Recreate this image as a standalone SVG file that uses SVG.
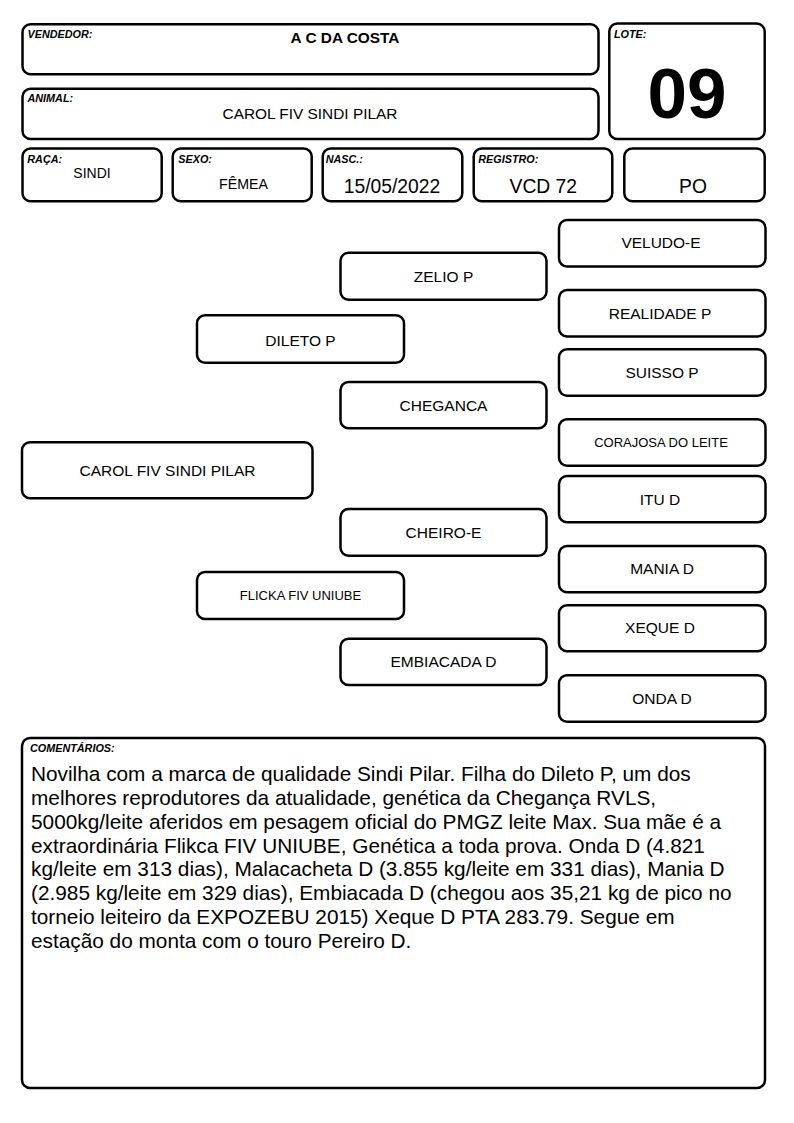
<svg xmlns="http://www.w3.org/2000/svg" width="794" height="1123" viewBox="0 0 794 1123">
<style>
  .box{fill:#ffffff;stroke:#000000;stroke-width:2.5}
  .lbl{font-family:"Liberation Sans",Arial,sans-serif;font-size:10.8px;font-weight:bold;font-style:italic;fill:#000}
  .val{font-family:"Liberation Sans",Arial,sans-serif;fill:#000;text-anchor:middle}
  .ped{font-family:"Liberation Sans",Arial,sans-serif;font-size:15.5px;fill:#000;text-anchor:middle}
  .peds{font-family:"Liberation Sans",Arial,sans-serif;font-size:13px;fill:#000;text-anchor:middle}
  .com{font-family:"Liberation Sans",Arial,sans-serif;font-size:20.8px;fill:#000}
</style>
<rect x="0" y="0" width="794" height="1123" fill="#ffffff"/>

<g id="vendedor">
  <rect class="box" x="22.5" y="24.3" width="576" height="50" rx="8"/>
  <text class="lbl" x="27.5" y="38.3">VENDEDOR:</text>
  <text class="val" x="345" y="42.5" font-size="15.4" font-weight="bold">A C DA COSTA</text>
</g>
<g id="animal">
  <rect class="box" x="22.5" y="88.7" width="576" height="50.3" rx="8"/>
  <text class="lbl" x="27.5" y="102.3">ANIMAL:</text>
  <text class="val" x="310" y="119.3" font-size="15.4">CAROL FIV SINDI PILAR</text>
</g>
<g id="lote">
  <rect class="box" x="609.3" y="23.5" width="155.4" height="115.5" rx="8"/>
  <text class="lbl" x="614" y="38.3">LOTE:</text>
  <text class="val" x="687" y="118" font-size="71" font-weight="bold">09</text>
</g>

<g id="raca">
  <rect class="box" x="22.5" y="148.5" width="139.2" height="52.8" rx="8"/>
  <text class="lbl" x="27.3" y="162.7">RAÇA:</text>
  <text class="val" x="92" y="177.7" font-size="14">SINDI</text>
</g>
<g id="sexo">
  <rect class="box" x="172.7" y="148.5" width="139" height="52.8" rx="8"/>
  <text class="lbl" x="178.3" y="162.7">SEXO:</text>
  <text class="val" x="243.5" y="189.3" font-size="14.2">FÊMEA</text>
</g>
<g id="nasc">
  <rect class="box" x="322.7" y="148.5" width="139.6" height="52.8" rx="8"/>
  <text class="lbl" x="325.7" y="162.7">NASC.:</text>
  <text class="val" x="392" y="193.3" font-size="19.3">15/05/2022</text>
</g>
<g id="registro">
  <rect class="box" x="473.7" y="148.5" width="138.6" height="52.8" rx="8"/>
  <text class="lbl" x="478.3" y="162.7">REGISTRO:</text>
  <text class="val" x="543.3" y="193.3" font-size="19.3">VCD 72</text>
</g>
<g id="po">
  <rect class="box" x="624.3" y="148.5" width="140.4" height="52.8" rx="8"/>
  <text class="val" x="693" y="193.3" font-size="19.3">PO</text>
</g>

<g id="connectors"></g>

<g id="carol">
  <rect class="box" x="22" y="442.3" width="290.5" height="56" rx="8"/>
  <text class="ped" x="167.5" y="475.7" font-size="15.4">CAROL FIV SINDI PILAR</text>
</g>
<g id="dileto">
  <rect class="box" x="197" y="315.3" width="207" height="47.4" rx="8"/>
  <text class="ped" x="300.5" y="345.5">DILETO P</text>
</g>
<g id="flicka">
  <rect class="box" x="197" y="572" width="207" height="47" rx="8"/>
  <text class="peds" x="300.5" y="600">FLICKA FIV UNIUBE</text>
</g>
<g id="zelio">
  <rect class="box" x="340.5" y="252.7" width="206" height="47" rx="8"/>
  <text class="ped" x="443.5" y="281.7">ZELIO P</text>
</g>
<g id="cheganca">
  <rect class="box" x="340.5" y="382" width="206" height="46.3" rx="8"/>
  <text class="ped" x="443.5" y="410.5">CHEGANCA</text>
</g>
<g id="cheiro">
  <rect class="box" x="340.5" y="509" width="206" height="46.7" rx="8"/>
  <text class="ped" x="443.5" y="537.7">CHEIRO-E</text>
</g>
<g id="embiacada">
  <rect class="box" x="340.5" y="638.7" width="206" height="46.3" rx="8"/>
  <text class="ped" x="443.5" y="666.5">EMBIACADA D</text>
</g>
<g id="veludo">
  <rect class="box" x="559" y="220" width="206.5" height="46.5" rx="8"/>
  <text class="ped" x="661" y="248.3">VELUDO-E</text>
</g>
<g id="realidade">
  <rect class="box" x="559" y="290" width="206.5" height="46.5" rx="8"/>
  <text class="ped" x="660" y="318.5">REALIDADE P</text>
</g>
<g id="suisso">
  <rect class="box" x="559" y="349.3" width="206.5" height="46.4" rx="8"/>
  <text class="ped" x="662" y="377.5">SUISSO P</text>
</g>
<g id="corajosa">
  <rect class="box" x="559" y="419.3" width="206.5" height="46.4" rx="8"/>
  <text class="peds" x="661" y="446.5">CORAJOSA DO LEITE</text>
</g>
<g id="itu">
  <rect class="box" x="559" y="476" width="206.5" height="46.3" rx="8"/>
  <text class="ped" x="660" y="504.5">ITU D</text>
</g>
<g id="mania">
  <rect class="box" x="559" y="546" width="206.5" height="46.3" rx="8"/>
  <text class="ped" x="662" y="574">MANIA D</text>
</g>
<g id="xeque">
  <rect class="box" x="559" y="605.3" width="206.5" height="46" rx="8"/>
  <text class="ped" x="660" y="633.3">XEQUE D</text>
</g>
<g id="onda">
  <rect class="box" x="559" y="675.3" width="206.5" height="46.4" rx="8"/>
  <text class="ped" x="662" y="703.5">ONDA D</text>
</g>

<g id="comentarios">
  <rect class="box" x="22" y="738" width="743" height="350" rx="8"/>
  <text class="lbl" x="30" y="752.3">COMENTÁRIOS:</text>
  <text class="com" x="31" y="781">Novilha com a marca de qualidade Sindi Pilar. Filha do Dileto P, um dos</text>
  <text class="com" x="31" y="804.85">melhores reprodutores da atualidade, genética da Chegança RVLS,</text>
  <text class="com" x="31" y="828.7">5000kg/leite aferidos em pesagem oficial do PMGZ leite Max. Sua mãe é a</text>
  <text class="com" x="31" y="852.55">extraordinária Flikca FIV UNIUBE, Genética a toda prova. Onda D (4.821</text>
  <text class="com" x="31" y="876.4">kg/leite em 313 dias), Malacacheta D (3.855 kg/leite em 331 dias), Mania D</text>
  <text class="com" x="31" y="900.25">(2.985 kg/leite em 329 dias), Embiacada D (chegou aos 35,21 kg de pico no</text>
  <text class="com" x="31" y="924.1">torneio leiteiro da EXPOZEBU 2015) Xeque D PTA 283.79. Segue em</text>
  <text class="com" x="31" y="947.95">estação do monta com o touro Pereiro D.</text>
</g>
</svg>
